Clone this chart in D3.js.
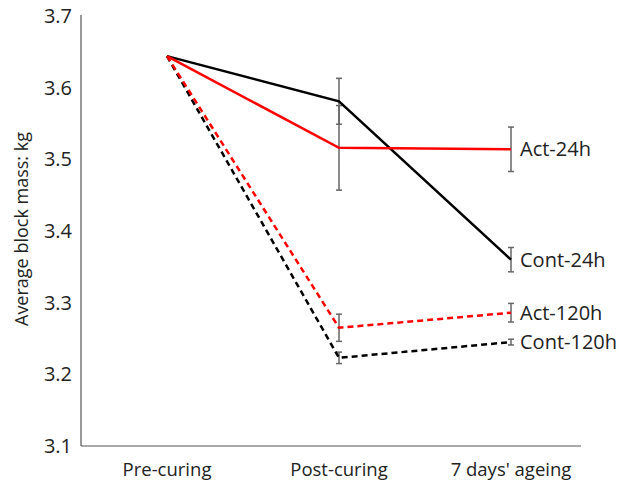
<!DOCTYPE html>
<html>
<head>
<meta charset="utf-8">
<script src="https://cdn.jsdelivr.net/npm/d3@7"></script>
<style>
  html, body { margin: 0; padding: 0; background: #fff; }
  svg text { font-family: "Open Sans", "Noto Sans", sans-serif; fill: #222; }
</style>
</head>
<body>
<svg id="chart" width="619" height="486"></svg>
<script>
// Stages along the x axis
const stages = ["Pre-curing", "Post-curing", "7 days' ageing"];
const yTicks = [3.1, 3.2, 3.3, 3.4, 3.5, 3.6, 3.7];

// Mean block mass (kg) per stage and standard error half-widths
const actH24 = [3.644, 3.516, 3.514];
const actH24Err = [0, 0.059, 0.031];
const contH24 = [3.644, 3.581, 3.360];
const contH24Err = [0, 0.032, 0.017];
const actH120 = [3.644, 3.265, 3.286];
const actH120Err = [0, 0.019, 0.013];
const contH120 = [3.644, 3.223, 3.245];
const contH120Err = [0, 0.008, 0.004];

const seriesNames = ["Act-24h", "Cont-24h", "Act-120h", "Cont-120h"];
const series = [
  { name: seriesNames[0], values: actH24, errs: actH24Err, color: "#ff0000", dash: null },
  { name: seriesNames[1], values: contH24, errs: contH24Err, color: "#000000", dash: null },
  { name: seriesNames[2], values: actH120, errs: actH120Err, color: "#ff0000", dash: "6,4" },
  { name: seriesNames[3], values: contH120, errs: contH120Err, color: "#000000", dash: "6,4" }
];

const svg = d3.select("#chart");
const plotLeft = 81, plotRight = 581, plotTop = 16, plotBottom = 446;

const x = d3.scalePoint().domain(stages).range([167, 511]);
const y = d3.scaleLinear().domain([3.1, 3.7]).range([plotBottom, plotTop]);

// Axes: plain lines, labels without tick marks
svg.append("line").attr("x1", plotLeft).attr("x2", plotLeft).attr("y1", plotTop - 1).attr("y2", plotBottom)
  .attr("stroke", "#555").attr("stroke-width", 1.2);
svg.append("line").attr("x1", plotLeft).attr("x2", plotRight).attr("y1", plotBottom).attr("y2", plotBottom)
  .attr("stroke", "#555").attr("stroke-width", 1.2);

svg.append("g").selectAll("text").data(yTicks).join("text")
  .attr("x", plotLeft - 9).attr("y", d => y(d)).attr("dy", "0.35em")
  .attr("text-anchor", "end").attr("font-size", 20).text(d => d.toFixed(1));

svg.append("g").selectAll("text").data(stages).join("text")
  .attr("x", d => x(d)).attr("y", plotBottom + 30)
  .attr("text-anchor", "middle").attr("font-size", 18.5).text(d => d);

svg.append("text")
  .attr("transform", `translate(28,229) rotate(-90)`)
  .attr("text-anchor", "middle").attr("font-size", 18)
  .text("Average block mass: kg");

const line = d3.line().x((d, i) => x(stages[i])).y(d => y(d));

// Error bars drawn beneath the lines
const eb = svg.append("g");
series.forEach(s => {
  s.values.forEach((v, i) => {
    const e = s.errs[i];
    if (!e) return;
    const cx = x(stages[i]);
    eb.append("line").attr("x1", cx).attr("x2", cx)
      .attr("y1", y(v - e)).attr("y2", y(v + e))
      .attr("stroke", "#666").attr("stroke-width", 1.5);
    [v - e, v + e].forEach(t => {
      eb.append("line").attr("x1", cx - 3).attr("x2", cx + 3)
        .attr("y1", y(t)).attr("y2", y(t))
        .attr("stroke", "#666").attr("stroke-width", 1.5);
    });
  });
});

// Series lines
series.slice().reverse().forEach(s => {
  svg.append("path").datum(s.values)
    .attr("d", line).attr("fill", "none")
    .attr("stroke", s.color).attr("stroke-width", 2.5)
    .attr("stroke-dasharray", s.dash);
});

// End-of-line labels
svg.append("g").selectAll("text").data(series).join("text")
  .attr("x", x(stages[2]) + 9)
  .attr("y", d => y(d.values[2]))
  .attr("dy", "0.35em").attr("font-size", 20)
  .text(d => d.name);
</script>
</body>
</html>
